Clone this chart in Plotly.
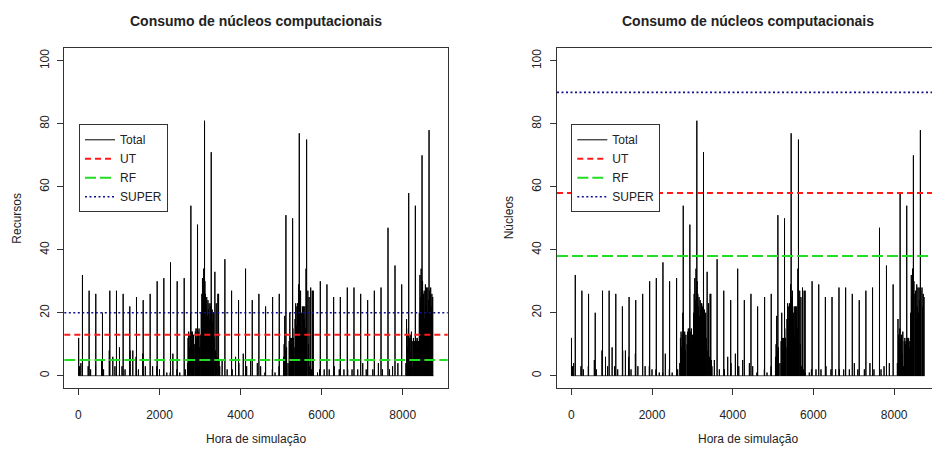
import numpy as np
import plotly.graph_objects as go

# ---------------- data ----------------
n_hours = 8760

# weekly peaks (hour, cores)
peak_hours = [99, 263, 428, 593, 774, 938, 1103, 1267, 1432, 1597,
              1769, 1942, 2107, 2271, 2436, 2609, 2774, 2938, 3111, 3276,
              3440, 3613, 3778, 3950, 4123, 4288, 4452, 4617, 4790, 4954,
              5119, 5284, 5448, 5629, 5794, 5967, 6131, 6296, 6461, 6633,
              6798, 6963, 7135, 7300, 7465, 7637, 7810, 7975, 8148, 8312,
              8477, 8650]
peak_values = [32, 27, 26, 20, 27, 27, 26, 22, 25, 24,
               26, 30, 31, 36, 30, 31, 54, 48, 81, 71,
               26, 37, 27, 24, 34, 24, 26, 22, 25, 26,
               51, 50, 77, 75, 27, 30, 29, 25, 25, 28,
               28, 26, 24, 27, 28, 47, 35, 29, 58, 54,
               70, 78]

# dense activity periods
burst_hours = [2690, 2705, 2720, 2735, 2750, 2765, 2780, 2795, 2810, 2825, 2840,
               2870, 2885, 2900, 2915, 2930, 2945, 2960, 2975, 2990, 3005,
               3030, 3045, 3060, 3075, 3090, 3105, 3120, 3135, 3150, 3165, 3180,
               3195, 3210, 3225, 3240, 3255, 3270, 3285, 3300, 3315, 3330, 3345,
               3366, 3385, 3400, 3420, 3457, 3470, 3485,
               5060, 5075, 5090, 5105, 5120, 5135, 5170, 5200, 5215, 5230, 5245,
               5260, 5275, 5290, 5305, 5320, 5345, 5360, 5375, 5390, 5405, 5420,
               5435, 5465, 5480, 5495, 5510, 5525, 5540, 5555, 5570, 5585, 5600,
               5615, 5660, 5675, 5690, 5710, 5730, 5750, 5770, 5790,
               8080, 8095, 8110, 8125, 8140, 8165, 8185, 8200, 8215, 8230, 8250,
               8265, 8280, 8295, 8325, 8345, 8360, 8375, 8390, 8410, 8425, 8440,
               8455, 8470, 8490, 8515, 8530, 8545, 8560, 8575, 8590, 8605, 8620,
               8635, 8660, 8690, 8705, 8720, 8740]
burst_values = [4, 12, 14, 9, 13, 20, 14, 11, 14, 8, 13,
                10, 14, 15, 12, 15, 11, 14, 15, 9, 13,
                20, 26, 31, 24, 34, 28, 30, 26, 22, 25, 19,
                24, 21, 23, 18, 22, 23, 20, 21, 17, 20, 12,
                33, 8, 23, 6, 26, 5, 3,
                6, 10, 19, 8, 10, 9, 4, 11, 20, 12, 8,
                12, 10, 15, 12, 9, 18, 23, 16, 22, 23, 20,
                29, 25, 27, 14, 20, 22, 12, 22, 18, 22, 15,
                34, 27, 10, 25, 3, 28, 2, 27, 1,
                4, 18, 13, 9, 15, 12, 13, 7, 14, 3, 11,
                12, 10, 11, 12, 11, 12, 9, 11, 20, 32, 25,
                34, 27, 30, 26, 27, 18, 29, 22, 28, 20, 28,
                24, 27, 28, 22, 26, 25]

# low background activity
small_hours = [5, 30, 60, 240, 300, 422, 571, 620, 761, 848, 900, 1012, 1075, 1150,
               1273, 1341, 1422, 1480, 1588, 1650, 1769, 1830, 1934, 2000, 2099,
               2180, 2264, 2330, 2430, 2500, 2636, 3545, 3669, 3793, 3876, 3958,
               4066, 4150, 4247, 4413, 4495, 4600, 4784, 4850, 4950, 5898, 5950,
               6063, 6187, 6311, 6435, 6550, 6642, 6750, 6890, 7014, 7100, 7262,
               7400, 7500, 7675, 7750, 7881]
small_values = [12, 3, 4, 3, 2, 3, 5, 2, 8, 6, 3, 9, 3, 2,
                8, 8, 6, 2, 7, 3, 2, 3, 3, 2, 2,
                1, 1, 7, 2, 1, 2, 5, 2, 2, 6, 4,
                7, 3, 5, 4, 3, 1, 2, 1, 3, 1, 2,
                2, 2, 3, 2, 2, 2, 2, 2, 4, 2, 2,
                4, 2, 2, 3, 4]

limits_left = {"UT": 13, "RF": 5, "SUPER": 20}
limits_right = {"UT": 58, "RF": 38, "SUPER": 90}

x_ticks = [0, 2000, 4000, 6000, 8000]
y_ticks = [0, 20, 40, 60, 80, 100]

# ---------------- hourly series ----------------
hours = np.arange(1, n_hours + 1)
total = np.zeros(n_hours)
for h, v in zip(small_hours, small_values):
    total[h - 1] = v
for h, v in zip(burst_hours, burst_values):
    total[h - 1] = v
for h, v in zip(peak_hours, peak_values):
    total[h - 1] = v

# ---------------- figure ----------------
FONT = "Liberation Sans, Arial, Helvetica, sans-serif"
W, H = 932, 449
box_top, box_bot = 48.3, 388.3
ydom = [1 - box_bot / H, 1 - box_top / H]

fig = go.Figure()

styles = {
    "UT": dict(color="#ff1a1a", width=2, dash="6px,4px"),
    "RF": dict(color="#22dd22", width=2, dash="11px,4px"),
    "SUPER": dict(color="#10108a", width=1.6, dash="2px,2.5px"),
}

for xa, ya, leg, lims in [("x", "y", "legend", limits_left),
                          ("x2", "y2", "legend2", limits_right)]:
    fig.add_trace(go.Scatter(
        x=hours, y=total, mode="lines", name="Total",
        line=dict(color="black", width=1, simplify=False),
        xaxis=xa, yaxis=ya, legend=leg, legendrank=1, hoverinfo="skip"))
    for rank, key in enumerate(["UT", "RF", "SUPER"], start=2):
        fig.add_shape(type="line", xref=f"{xa} domain", yref=ya,
                      x0=0, x1=1, y0=lims[key], y1=lims[key],
                      line=styles[key], layer="above",
                      showlegend=True, legend=leg, name=key, legendrank=rank)

axis_common = dict(showgrid=False, zeroline=False, ticks="outside", ticklen=6,
                   tickcolor="#333", showline=True, linecolor="#333", linewidth=1,
                   tickfont=dict(family=FONT, size=12, color="#222"))

legend_common = dict(yanchor="top", xanchor="left", bgcolor="white",
                     bordercolor="#333", borderwidth=1, itemwidth=30,
                     font=dict(family=FONT, size=12, color="#222"))

fig.update_layout(
    width=W, height=H, margin=dict(l=0, r=0, t=0, b=0),
    paper_bgcolor="white", plot_bgcolor="white", showlegend=True,
    xaxis=dict(domain=[64.3 / W, 447.7 / W], range=[-349, 9110], anchor="y",
               tickvals=x_ticks, mirror=True, ticklabelstandoff=9, **axis_common),
    yaxis=dict(domain=ydom, range=[-4, 104], anchor="x", tickvals=y_ticks,
               tickangle=-90, mirror=True, ticklabelstandoff=4, **axis_common),
    xaxis2=dict(domain=[557 / W, 1.0], range=[-354, 8938], anchor="y2",
                tickvals=x_ticks, mirror=True, ticklabelstandoff=9, **axis_common),
    yaxis2=dict(domain=ydom, range=[-4, 104], anchor="x2", tickvals=y_ticks,
                tickangle=-90, mirror=False, ticklabelstandoff=4, **axis_common),
    legend=dict(x=79 / W, y=1 - 124.3 / H, **legend_common),
    legend2=dict(x=571.3 / W, y=1 - 124.3 / H, **legend_common),
)

title = "Consumo de núcleos computacionais"
annots = [
    dict(text=f"<b>{title}</b>", x=256 / W, y=1 - 20.7 / H, font=dict(size=14)),
    dict(text=f"<b>{title}</b>", x=748 / W, y=1 - 20.7 / H, font=dict(size=14)),
    dict(text="Hora de simulação", x=256 / W, y=1 - 439 / H, font=dict(size=12)),
    dict(text="Hora de simulação", x=748 / W, y=1 - 439 / H, font=dict(size=12)),
    dict(text="Recursos", x=16.7 / W, y=1 - 218 / H, textangle=-90, font=dict(size=12)),
    dict(text="Núcleos", x=509.3 / W, y=1 - 218 / H, textangle=-90, font=dict(size=12)),
]
for a in annots:
    a["font"].update(family=FONT, color="#222")
    fig.add_annotation(xref="paper", yref="paper", xanchor="center", yanchor="middle",
                       showarrow=False, **a)

fig.write_html("out.html",
               config={"displayModeBar": False},
               post_script="document.body.style.margin='0px';"
                           "document.body.style.overflow='hidden';")
